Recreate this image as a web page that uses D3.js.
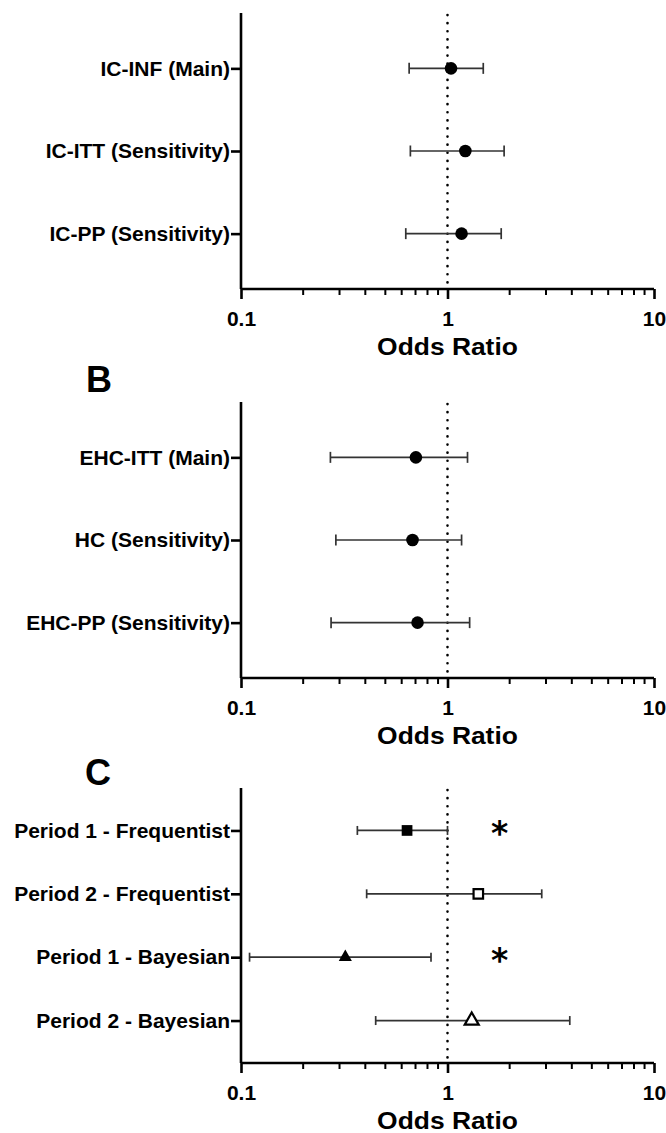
<!DOCTYPE html>
<html>
<head>
<meta charset="utf-8">
<script src="https://cdn.jsdelivr.net/npm/d3@7"></script>
<style>
  html, body { margin: 0; padding: 0; background: #fff; }
  svg { display: block; }
  text { font-family: "Liberation Sans", Arial, sans-serif; font-weight: bold; fill: #000; }
</style>
</head>
<body>
<svg id="chart" width="666" height="1133"></svg>
<script>
// ---- Data ----
const labelsA = ["IC-INF (Main)", "IC-ITT (Sensitivity)", "IC-PP (Sensitivity)"];
const orA     = [1.04, 1.22, 1.17];
const lowA    = [0.652, 0.661, 0.628];
const highA   = [1.49, 1.88, 1.82];

const labelsB = ["EHC-ITT (Main)", "HC (Sensitivity)", "EHC-PP (Sensitivity)"];
const orB     = [0.703, 0.677, 0.716];
const lowB    = [0.271, 0.288, 0.273];
const highB   = [1.25, 1.17, 1.28];

const labelsC = ["Period 1 - Frequentist", "Period 2 - Frequentist", "Period 1 - Bayesian", "Period 2 - Bayesian"];
const orC     = [0.637, 1.41, 0.320, 1.31];
const lowC    = [0.366, 0.406, 0.110, 0.449];
const highC   = [1.00, 2.86, 0.832, 3.91];
const markerC = ["squareFilled", "squareOpen", "triangleFilled", "triangleOpen"];
const signifC = [true, false, true, false];
const signifAt = 1.79;

const xTickValues = [0.1, 1, 10];
const xTickLabels = ["0.1", "1", "10"];
const xTitle = "Odds Ratio";
const refLine = 1;

// ---- Layout ----
const svg = d3.select("#chart");
const xLeft = 241, xRight = 654;
const x = d3.scaleLog().domain([0.1, 10]).range([xLeft, xRight]);

const panels = [
  { letter: null, labels: labelsA, or: orA, lo: lowA, hi: highA, top: 13, bottom: 289, capH: 11 },
  { letter: "B", letterX: 86, letterY: 392, labels: labelsB, or: orB, lo: lowB, hi: highB, top: 402, bottom: 678, capH: 11 },
  { letter: "C", letterX: 85, letterY: 785, labels: labelsC, or: orC, lo: lowC, hi: highC, top: 788, bottom: 1063, capH: 9,
    markers: markerC, signif: signifC }
];

const minorTicks = [];
for (let d = 0.1; d < 10; d *= 10) {
  for (let k = 2; k <= 9; k++) minorTicks.push(+(d * k).toPrecision(3));
}

// horizontal widening of text about its anchor x
function widen(sel, f) {
  sel.each(function () {
    const el = d3.select(this);
    const x0 = +el.attr("x") || 0;
    const prev = el.attr("transform") || "";
    el.attr("x", x0 / f).attr("transform", (prev + ` scale(${f},1)`).trim());
  });
}

panels.forEach(p => {
  const g = svg.append("g");
  const y = d3.scalePoint().domain(p.labels).range([p.top, p.bottom]).padding(0.67);

  // reference dotted line
  g.append("line")
    .attr("x1", x(refLine)).attr("x2", x(refLine))
    .attr("y1", p.top + 2).attr("y2", p.bottom)
    .attr("stroke", "#000").attr("stroke-width", 2.6)
    .attr("stroke-dasharray", "0.1,8").attr("stroke-linecap", "round");

  // error bars
  p.labels.forEach((lab, i) => {
    const yy = y(lab);
    const eg = g.append("g").attr("stroke", "#333").attr("stroke-width", 1.7);
    eg.append("line").attr("x1", x(p.lo[i])).attr("x2", x(p.hi[i])).attr("y1", yy).attr("y2", yy);
    eg.append("line").attr("x1", x(p.lo[i])).attr("x2", x(p.lo[i])).attr("y1", yy - p.capH / 2).attr("y2", yy + p.capH / 2);
    eg.append("line").attr("x1", x(p.hi[i])).attr("x2", x(p.hi[i])).attr("y1", yy - p.capH / 2).attr("y2", yy + p.capH / 2);

    const cx = x(p.or[i]);
    if (!p.markers) {
      g.append("circle").attr("cx", cx).attr("cy", yy).attr("r", 6.3).attr("fill", "#000");
    } else {
      const m = p.markers[i];
      const isSquare = m.startsWith("square");
      const filled = m.endsWith("Filled");
      const sym = d3.symbol().type(isSquare ? d3.symbolSquare : d3.symbolTriangle).size(isSquare ? (filled ? 115 : 90) : (filled ? 75 : 85));
      g.append("path").attr("d", sym())
        .attr("transform", `translate(${cx},${yy})`)
        .attr("fill", filled ? "#000" : "#fff")
        .attr("stroke", "#000").attr("stroke-width", filled ? 0 : 2.2);
    }
    if (p.signif && p.signif[i]) {
      g.append("text").attr("x", x(signifAt)).attr("y", yy + 15)
        .attr("text-anchor", "middle")
        .style("font-family", "'DejaVu Sans', sans-serif")
        .style("font-size", "33px").text("*");
    }
  });

  // y axis
  const yAxis = d3.axisLeft(y).tickSize(10).tickPadding(1);
  const ya = g.append("g").attr("transform", `translate(${xLeft},0)`).call(yAxis);
  ya.select(".domain").attr("d", `M0,${p.top}V${p.bottom}`).attr("stroke-width", 2.6);
  ya.selectAll(".tick line").attr("stroke-width", 2.6);
  ya.selectAll(".tick text").style("font-size", "21px").style("font-family", "'Liberation Sans', Arial, sans-serif").style("font-weight", "bold");

  // x axis
  const xAxis = d3.axisBottom(x).tickValues(xTickValues).tickFormat((d, i) => xTickLabels[i]).tickSize(10).tickPadding(12);
  const xa = g.append("g").attr("transform", `translate(0,${p.bottom})`).call(xAxis);
  xa.select(".domain").attr("d", `M${xLeft},0H${xRight}`).attr("stroke-width", 2.6);
  xa.selectAll(".tick line").attr("stroke-width", 2.6);
  xa.selectAll(".tick text").style("font-size", "21px").style("font-family", "'Liberation Sans', Arial, sans-serif").style("font-weight", "bold");

  // minor ticks
  g.append("g").selectAll("line").data(minorTicks).join("line")
    .attr("x1", d => x(d)).attr("x2", d => x(d))
    .attr("y1", p.bottom).attr("y2", p.bottom + 6)
    .attr("stroke", "#000").attr("stroke-width", 2);

  // x title
  const t = g.append("text").attr("x", x(1)).attr("y", p.bottom + 66)
    .attr("text-anchor", "middle").style("font-size", "24px").text(xTitle);
  widen(t, 1.1);

  if (p.letter) {
    g.append("text").attr("x", p.letterX).attr("y", p.letterY)
      .style("font-size", "36px").text(p.letter);
  }
});
</script>
</body>
</html>
